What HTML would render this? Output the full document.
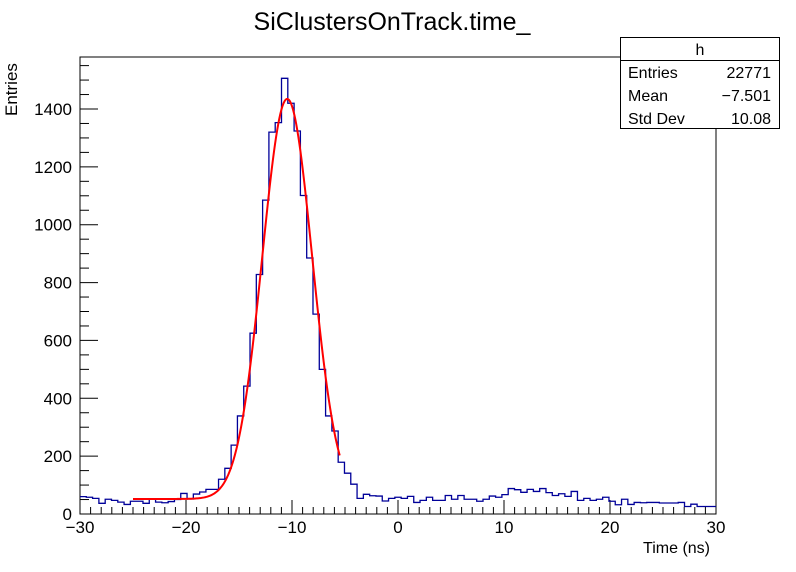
<!DOCTYPE html>
<html><head><meta charset="utf-8"><style>
body{margin:0;background:#fff;}
svg{display:block;font-family:"Liberation Sans",sans-serif;}
</style></head><body>
<svg id="chart" width="796" height="572">
<rect width="796" height="572" fill="#fff"/>
<text x="392" y="30" font-size="25" text-anchor="middle">SiClustersOnTrack.time_</text>
<rect x="80" y="57" width="636" height="457" fill="none" stroke="#000" stroke-width="1"/>
<g id="xaxis"></g>
<g id="yaxis"></g>
<path id="hist" fill="none" stroke="#000099" stroke-width="1.3"/>
<path id="fit" fill="none" stroke="#ff0000" stroke-width="2"/>
<text x="710" y="553" font-size="16" text-anchor="end">Time (ns)</text>
<text transform="translate(17,116) rotate(-90)" font-size="17">Entries</text>
<g>
<rect x="620.5" y="37.5" width="159" height="91" fill="#fff" stroke="#000"/>
<line x1="620" y1="60.5" x2="780" y2="60.5" stroke="#000"/>
<text x="700" y="55" font-size="16" text-anchor="middle">h</text>
<text x="628" y="78" font-size="16">Entries</text><text x="771" y="78" font-size="16" text-anchor="end">22771</text>
<text x="628" y="101" font-size="16">Mean</text><text x="771" y="101" font-size="16" text-anchor="end">−7.501</text>
<text x="628" y="124" font-size="16">Std Dev</text><text x="771" y="124" font-size="16" text-anchor="end">10.08</text>
</g>
</svg>
<script>
const binEdges=[-30,30];
const binCounts=[60,58,54,37,51,47,41,33,44,44,37,52,41,39,43,50,71,52,69,76,85,85,
120,158,238,339,442,625,828,1085,1320,1353,1506,1420,1324,1101,885,691,500,339,287,179,141,103,54,68,
63,62,45,54,58,54,61,40,47,58,47,47,64,51,64,51,51,44,51,62,58,67,88,84,75,85,78,88,74,64,70,61,78,47,54,47,51,58,44,32,51,33,40,39,40,40,38,38,38,40,26,34,26,26,26];
const fitParams=[1383,-10.45,2.35,52];
const fitRange=[-25,-5.5];
const xTicks=[-30,-20,-10,0,10,20,30];
const yTicks=[0,200,400,600,800,1000,1200,1400];
const NS="http://www.w3.org/2000/svg";
const X=v=>80+(v-binEdges[0])/(binEdges[1]-binEdges[0])*636;
const Y=v=>514-v*(514-109)/1400;
function mk(tag,attrs,parent){const e=document.createElementNS(NS,tag);for(const k in attrs)e.setAttribute(k,attrs[k]);parent.appendChild(e);return e;}
const xa=document.getElementById('xaxis'),ya=document.getElementById('yaxis');
for(let v=-30;v<=30;v+=2){const maj=v%10===0;mk('line',{x1:X(v),x2:X(v),y1:514,y2:514-(maj?14:7),stroke:'#000'},xa);}
for(let v=-29;v<=30;v+=2){mk('line',{x1:X(v),x2:X(v),y1:514,y2:507,stroke:'#000'},xa);}
xTicks.forEach(v=>{const t=mk('text',{x:X(v),y:533,'font-size':17,'text-anchor':'middle'},xa);t.textContent=(v<0?'−':'')+Math.abs(v);

});
for(let v=0;v<=1550;v+=50){const maj=v%200===0;mk('line',{x1:80,x2:80+(maj?18:9),y1:Y(v),y2:Y(v),stroke:'#000'},ya);}
yTicks.forEach(v=>{const t=mk('text',{x:72,y:Y(v)+6,'font-size':17,'text-anchor':'end'},ya);t.textContent=v;

});
const n=binCounts.length,w=(binEdges[1]-binEdges[0])/n;
let d='M'+X(binEdges[0])+','+Y(binCounts[0]);
binCounts.forEach((c,i)=>{d+=' L'+X(binEdges[0]+i*w)+','+Y(c)+' L'+X(binEdges[0]+(i+1)*w)+','+Y(c);});
document.getElementById('hist').setAttribute('d',d);
let f='';
for(let x=fitRange[0];x<=fitRange[1]+1e-9;x+=0.1){const v=fitParams[0]*Math.exp(-Math.pow(x-fitParams[1],2)/(2*fitParams[2]*fitParams[2]))+fitParams[3];f+=(f?' L':'M')+X(x).toFixed(2)+','+Y(v).toFixed(2);}
document.getElementById('fit').setAttribute('d',f);
</script>
</body></html>
